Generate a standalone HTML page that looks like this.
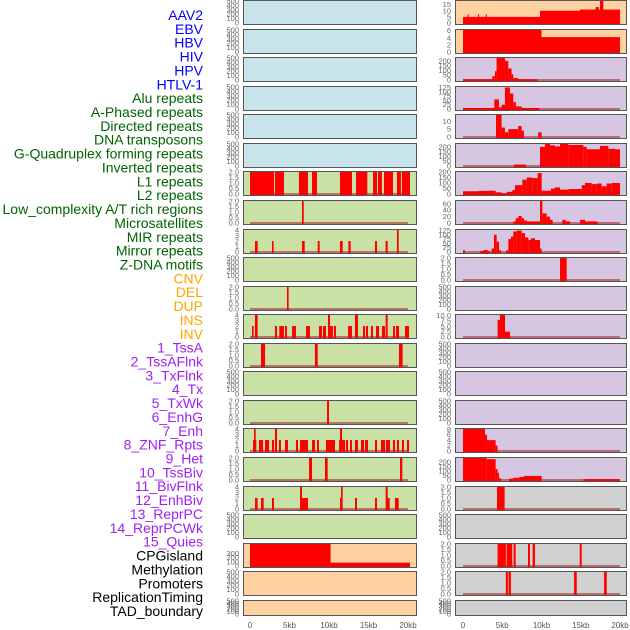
<!DOCTYPE html>
<html><head><meta charset="utf-8"><style>
body{margin:0;background:#fff;width:630px;height:630px;overflow:hidden}
svg{display:block}
</style></head><body>
<svg id="chart" width="630" height="630" xmlns="http://www.w3.org/2000/svg" font-family="Liberation Sans, sans-serif"></svg>
<script>
const labelNames=["AAV2","EBV","HBV","HIV","HPV","HTLV-1","Alu repeats","A-Phased repeats","Directed repeats","DNA transposons","G-Quadruplex forming repeats","Inverted repeats","L1 repeats","L2 repeats","Low_complexity A/T rich regions","Microsatellites","MIR repeats","Mirror repeats","Z-DNA motifs","CNV","DEL","DUP","INS","INV","1_TssA","2_TssAFlnk","3_TxFlnk","4_Tx","5_TxWk","6_EnhG","7_Enh","8_ZNF_Rpts","9_Het","10_TssBiv","11_BivFlnk","12_EnhBiv","13_ReprPC","14_ReprPCWk","15_Quies","CPGisland","Methylation","Promoters","ReplicationTiming","TAD_boundary"];
const labelGroups=[0,0,0,0,0,0,1,1,1,1,1,1,1,1,1,1,1,1,1,2,2,2,2,2,3,3,3,3,3,3,3,3,3,3,3,3,3,3,3,4,4,4,4,4];
const xTickLabels=["0","5kb","10kb","15kb","20kb"];
const xTickValues=[0,5,10,15,20];
const E=[0,100,200,300,400,500];
const T2=[0,0.5,1,1.5,2];
const T4=[0,1,2,3,4];
const leftTicks=[E,E,E,E,E,E,T2,T2,T4,E,T2,T4,T2,E,T2,T4,T2,T4,E,[0,100,200,300],E,E];
const leftMax=[500,500,500,500,500,500,2,2,4,500,2,4,2,500,2,4,2,4,500,530,500,500];
const leftSegs=[[],[],[],[],[],[],
[[0,3.04,2],[3.16,4.3,2],[6.2,7.34,2],[7.85,8.48,2],[11.39,12.91,2],[13.42,14.85,2],[15.57,16.08,2],[16.2,16.7,2],[16.96,18.1,2],[18.6,19.1,2],[19.23,20.25,2]],
[[6.58,6.8,2]],
[[0.63,0.97,2],[2.78,2.99,2],[6.58,6.92,2],[8.57,8.82,2],[11.39,11.73,2],[12.45,12.74,2],[15.82,16.08,2],[17.17,17.43,2],[18.6,18.82,4]],
[],
[[4.68,4.89,2]],
[[0.25,0.46,2],[0.63,0.97,4],[3.16,3.42,2],[3.71,4.3,2],[4.43,4.68,2],[5.32,5.82,2],[7.09,7.59,2],[8.73,9.11,2],[9.24,9.62,2],[9.87,10.13,4],[10.13,10.5,2],[10.63,10.89,2],[12.41,12.91,2],[13.29,13.67,4],[14.3,14.56,2],[14.68,14.94,2],[15.32,15.57,2],[15.95,16.33,2],[16.71,17.09,2],[17.17,17.43,4],[18.1,18.35,2],[18.48,18.86,2],[19.62,20.13,2]],
[[1.39,1.9,2],[8.22,8.57,2],[18.86,19.32,2]],
[],
[[9.75,10.0,2]],
[[0.38,0.8,2],[0.51,0.72,4],[1.14,1.65,2],[1.9,2.41,2],[2.78,3.04,2],[3.16,3.42,4],[3.67,3.92,2],[4.43,4.81,2],[5.82,6.08,2],[6.33,7.34,2],[7.85,8.23,2],[8.48,8.73,2],[9.62,10.76,2],[11.27,12.03,2],[11.39,11.65,4],[12.15,12.41,2],[12.66,12.91,2],[13.29,13.67,2],[14.05,14.43,2],[14.56,14.94,2],[15.82,16.08,2],[16.58,17.09,2],[17.21,17.72,2],[18.1,18.35,2],[18.6,18.86,2],[19.23,19.49,2],[19.87,20.13,2]],
[[7.47,7.85,2],[9.49,9.83,2],[18.99,19.28,2]],
[[0.63,0.97,2],[1.39,1.73,2],[2.78,3.04,2],[6.33,6.58,4],[6.46,7.34,2],[11.39,11.6,2],[11.52,11.73,4],[13.29,13.54,2],[15.82,16.08,2],[17.17,17.43,4],[17.34,17.68,2],[18.35,18.82,2]],
[],
[[0,10.2,530],[10.2,20.25,80]],
[],[]];
const rightTicks=[[0,5,10,15],[0,2,4,6],[0,50,100,150,200],[0,25,50,75,100,125],[0,5,10],[0,50,100,150,200],[0,50,100,150,200],[0,20,40,60],[0,25,50,75,100,125],T2,E,[0,2.5,5,7.5,10],E,E,E,[0,2,4,6,8],[0,50,100,150,200],T2,E,T2,T2,E];
const rightMax=[18,6.2,230,128,14,230,200,69,128,2,500,10.3,500,500,500,8.1,243,2,500,2,2,500];
const rightSegs=[
[[0,9.81,5],[0.6,0.75,7],[1.9,2.05,7],[2.9,3.05,7],[9.81,14.9,10],[14.9,20,11],[16.9,17.3,13],[17.45,17.88,20]],
[[0,10.0,6.2],[10.0,20.0,4.2]],
[[0,9.5,8],[3.73,4.07,40],[4.07,4.28,92],[4.28,5.34,230],[5.34,5.77,200],[5.77,6.19,120],[6.19,6.4,60],[6.4,7.04,20]],
[[0,9.72,6],[3.99,4.58,56],[4.58,4.92,10],[4.92,5.34,25],[5.34,5.98,125],[5.98,6.4,90],[6.4,6.74,40],[6.74,7.46,15]],
[[4.2,4.92,14],[4.92,5.34,6],[5.34,5.77,3],[5.77,7.04,5],[7.04,7.46,7],[7.46,7.76,4],[9.58,10.0,3]],
[[6.5,8.03,15],[9.81,10.45,200],[10.45,11.08,230],[11.08,11.72,215],[11.72,12.36,205],[12.36,13.42,230],[13.42,15.33,220],[15.33,15.75,200],[15.75,17.45,175],[17.45,18.51,210],[18.51,19.36,180],[19.36,20.0,175]],
[[0,1.95,25],[1.95,3.01,28],[3.01,4.16,30],[4.16,4.92,15],[4.92,5.56,5],[5.56,6.28,20],[6.28,6.62,35],[6.62,7.56,80],[7.56,8.11,130],[8.11,8.83,150],[8.83,9.51,145],[9.51,10.02,190],[10.02,11.21,30],[11.21,11.72,50],[11.72,12.36,60],[12.36,13.42,40],[13.42,15.12,45],[15.12,15.54,80],[15.54,16.39,100],[16.39,17.03,90],[17.03,17.66,95],[17.66,18.3,70],[18.3,18.94,95],[18.94,20.0,100]],
[[6.41,6.71,5],[6.71,7.05,15],[7.05,7.47,22],[7.47,7.77,15],[7.77,8.11,8],[8.11,9.81,5],[9.81,10.11,69],[10.11,10.66,30],[10.66,11.08,20],[11.08,11.42,10],[12.65,13.08,10],[13.08,13.63,5],[14.91,15.54,10],[15.54,17.15,5]],
[[0,0.25,10],[2.17,2.59,5],[2.59,3.14,12],[3.14,3.44,5],[3.65,3.95,20],[3.95,4.29,100],[4.29,4.59,60],[4.59,4.84,10],[5.48,5.78,10],[5.78,6.11,75],[6.11,6.41,90],[6.41,6.84,120],[6.84,7.47,125],[7.47,7.9,110],[7.9,8.32,85],[8.32,8.66,70],[8.66,9.17,80],[9.17,9.81,70],[9.81,10.02,20]],
[[12.36,13.21,2]],
[],
[[4.41,4.71,8],[4.71,5.35,10.3],[5.35,5.99,2.5]],
[],[],[],
[[0,2.8,8.1],[2.8,3.06,6],[3.06,4.16,4],[4.16,4.41,2]],
[[0,3.02,243],[3.02,4.16,230],[4.16,4.41,120],[4.41,4.58,80],[4.58,4.84,20],[5.86,6.41,15],[6.41,7.18,25],[7.18,7.77,35],[7.77,10.02,45],[15.33,20,10]],
[[4.33,5.3,2]],
[],
[[4.4,5.46,2],[5.55,6.28,2],[6.45,6.71,2],[8.28,8.53,2],[8.87,9.17,2],[14.87,15.12,2]],
[[5.46,5.72,2],[5.8,6.1,2],[14.15,14.49,2],[17.97,18.31,2]],
[]];
const leftBg=["#c8e3ea","#c8e3ea","#c8e3ea","#c8e3ea","#c8e3ea","#c8e3ea","#c9e1a5","#c9e1a5","#c9e1a5","#c9e1a5","#c9e1a5","#c9e1a5","#c9e1a5","#c9e1a5","#c9e1a5","#c9e1a5","#c9e1a5","#c9e1a5","#c9e1a5","#ffd0a0","#ffd0a0","#ffd0a0"];
const rightBg=["#ffd0a0","#ffd0a0","#d6c6e2","#d6c6e2","#d6c6e2","#d6c6e2","#d6c6e2","#d6c6e2","#d6c6e2","#d6c6e2","#d6c6e2","#d6c6e2","#d6c6e2","#d6c6e2","#d6c6e2","#d6c6e2","#d6c6e2","#d0d0d0","#d0d0d0","#d0d0d0","#d0d0d0","#d0d0d0"];
const panelTops=[0,29,57,86,114,143,171,200,229,257,286,314,343,371,400,428,457,486,514,543,571,600];

const NS="http://www.w3.org/2000/svg";
const svg=document.getElementById('chart');
function mk(tag,attrs,parent){const e=document.createElementNS(NS,tag);for(const k in attrs)e.setAttribute(k,attrs[k]);(parent||svg).appendChild(e);return e;}
const groupColors=["#0000ff","#006400","#ffa500","#a020f0","#000000"];
labelNames.forEach((n,i)=>{
  const t=mk('text',{x:203,y:15+i*13.86+5,'text-anchor':'end','font-size':14,fill:groupColors[labelGroups[i]]});
  
  
  t.textContent=n;
});
function drawCol(x0,x1,zeroX,pxPerKb,ticks,maxes,segs,bgs,side){
  const xs=kb=>zeroX+kb*pxPerKb;
  panelTops.forEach((top,i)=>{
    const h=i===21?16:25;
    const base=top+h-2, ytop=top+1;
    const ys=v=>base-Math.min(v,maxes[i])/maxes[i]*(base-ytop);
    const g=mk('g',{});
    
    
    mk('rect',{x:x0,y:top,width:x1-x0,height:h,fill:bgs[i]},g);
    if(segs[i].length){
      mk('line',{x1:xs(0),x2:xs(20),y1:base,y2:base,stroke:'rgba(170,30,30,0.55)','stroke-width':2},g);
    }
    segs[i].forEach(s=>{
      const r=mk('rect',{x:xs(s[0]),y:ys(s[2]),width:Math.max(1,xs(s[1])-xs(s[0])),height:base-ys(s[2])+1,fill:'#ff0000'},g);
      
      
    });
    mk('rect',{x:x0+0.5,y:top+0.5,width:x1-x0-1,height:h-1,fill:'none',stroke:'#555','stroke-width':1},g);
    const dec=ticks[i].some(v=>!Number.isInteger(v));
    ticks[i].forEach(tv=>{
      const t=mk('text',{x:x0-4,y:ys(tv)+2.5,'text-anchor':'end','font-size':7.5,fill:'#666'},g);
      
      
      t.textContent=dec?tv.toFixed(1):String(tv);
    });
  });
  xTickValues.forEach((v,k)=>{
    const t=mk('text',{x:xs(v),y:628,'text-anchor':'middle','font-size':8,fill:'#555'});
    
    
    t.textContent=xTickLabels[k];
  });
}
drawCol(243,417,250,7.9,leftTicks,leftMax,leftSegs,leftBg,'left');
drawCol(455,627,463,7.85,rightTicks,rightMax,rightSegs,rightBg,'right');
</script>
</body></html>
